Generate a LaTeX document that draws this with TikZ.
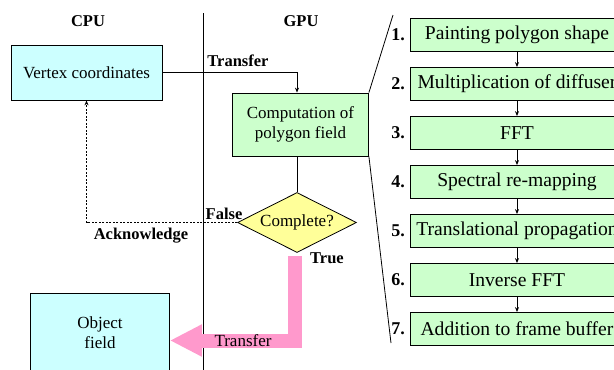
\documentclass[tikz,border=0pt]{standalone}
\usepackage{fontspec}
\setmainfont{Liberation Serif}
\usetikzlibrary{shapes.geometric,arrows.meta,positioning}
\definecolor{cpucol}{HTML}{CCFFFF}
\definecolor{gpucol}{HTML}{CCFFCC}
\definecolor{yelcol}{HTML}{FFFF99}
\definecolor{pinkcol}{HTML}{FF99CC}
\begin{document}
\begin{tikzpicture}
  [x=1pt,y=-1pt,line width=0.8pt,>={Stealth[length=5pt,width=4pt]},
   every node/.style={font=\fontsize{17}{20}\selectfont},
   lbl/.style={font=\fontsize{16.5}{20}\selectfont\bfseries},
   box/.style={draw,align=center},
   stepbox/.style={draw,fill=gpucol,minimum width=214,minimum height=33,inner sep=1pt,
     font=\fontsize{19.6}{22}\selectfont}]
  \useasboundingbox (0,0) rectangle (614,370);
  \clip (0,0) rectangle (614,370);

  \node[lbl] (lcpu) at (88,21) {CPU};
  \node[lbl] (lgpu) at (301,21) {GPU};
  \draw (203,13) -- (203,375);

  \node[box,fill=cpucol,minimum width=151,minimum height=55] (vc) at (86.5,72.5) {Vertex coordinates};
  \node[box,fill=gpucol,minimum width=136,minimum height=63] (cp) at (300.5,124.5) {Computation of\\polygon field};
  \node[diamond,draw,fill=yelcol,aspect=2,minimum width=119,minimum height=60,inner sep=0pt] (cc) at (297,222.5) {Complete?};
  \node[box,fill=cpucol,minimum width=139,minimum height=80] (obj) at (100,333) {Object\\field};

  \draw[->] (vc.east) -| (cc.north |- cp.north);
  \draw (cc.north |- cp.south) -- (cc.north);
  \draw[->,dash pattern=on 2pt off 1.5pt] (cc.west) -| (vc.south);

  \coordinate (ps) at (294.5,256);
  \draw[pinkcol,line width=14pt,-{Triangle[width=30pt,length=32pt]}] (ps) |- ([yshift=-7.5pt]obj.east);

  \node[lbl] (ltr) at (238,61) {Transfer};
  \node[lbl] (lfa) at (224,214) {False};
  \node[lbl] (lack) at (141,236) {Acknowledge};
  \node[lbl] (ltrue) at (327,258) {True};
  \node (lpt) at (243,341) {Transfer};

  \foreach \i/\t in {1/Painting polygon shape,2/Multiplication of diffuser,3/FFT,
    4/Spectral re-mapping,5/Translational propagation,6/Inverse FFT,7/Addition to frame buffer}
  {
    \node[stepbox] (s\i) at (517,{35+49*(\i-1)}) {\t};
    \node[lbl,font=\fontsize{18}{20}\selectfont\bfseries,left=1pt of s\i] (n\i) {\i.};
  }

  \foreach \from/\to in {s1/s2,s2/s3,s3/s4,s4/s5,s5/s6,s6/s7}
    \draw[->] (\from) -- (\to);

  \coordinate (zt) at (393,15);
  \coordinate (zb) at (391,343);
  \draw (cp.north east) -- (zt);
  \draw (cp.south east) -- (zb);

\end{tikzpicture}
\end{document}
